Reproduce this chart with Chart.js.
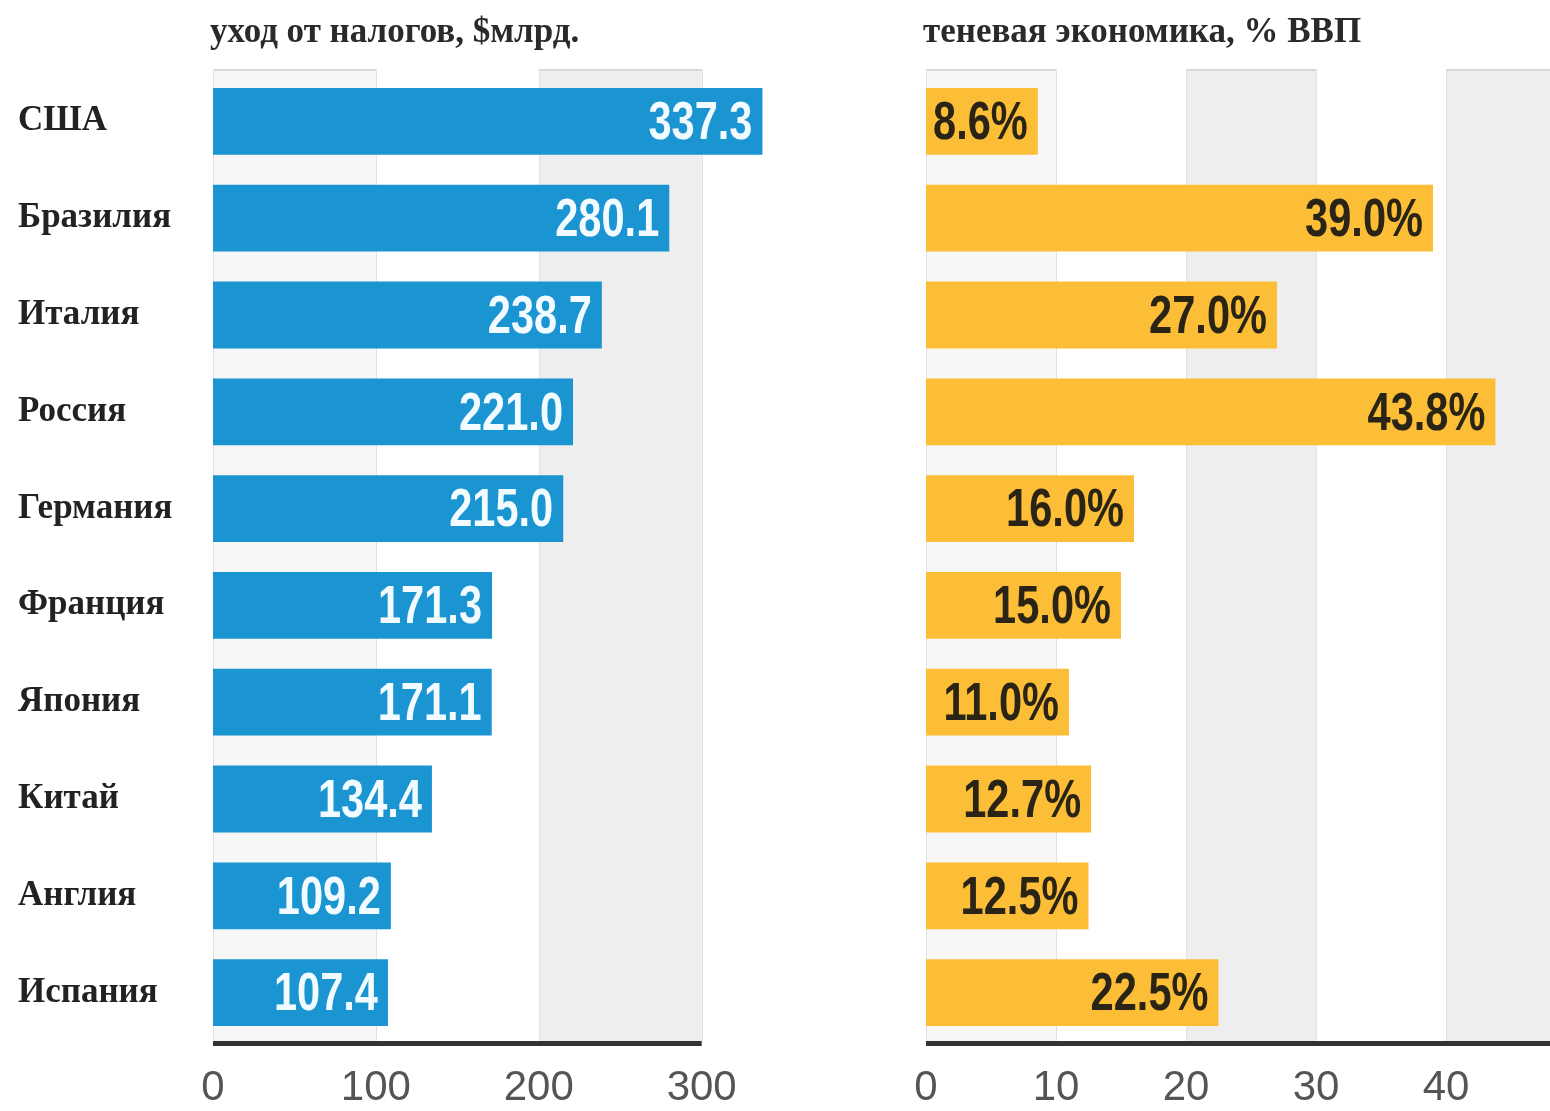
<!DOCTYPE html>
<html>
<head>
<meta charset="utf-8">
<script src="https://cdn.jsdelivr.net/npm/chart.js@4.4.1/dist/chart.umd.min.js"></script>
<style>
    html, body { margin: 0; padding: 0; background: #fff; }
    body { width: 1550px; height: 1111px; position: relative; overflow: hidden; }
    canvas { position: absolute; top: 0; }
    #taxChart { left: 0; }
    #shadowChart { left: 780px; }
</style>
</head>
<body>
<canvas id="taxChart" width="780" height="1111"></canvas>
<canvas id="shadowChart" width="770" height="1111"></canvas>
<script>
// Data
const countries = ['США', 'Бразилия', 'Италия', 'Россия', 'Германия', 'Франция', 'Япония', 'Китай', 'Англия', 'Испания'];
const taxEvasion = [337.3, 280.1, 238.7, 221.0, 215.0, 171.3, 171.1, 134.4, 109.2, 107.4];
const shadowEconomy = [8.6, 39.0, 27.0, 43.8, 16.0, 15.0, 11.0, 12.7, 12.5, 22.5];
const taxTicks = [0, 100, 200, 300];
const shadowTicks = [0, 10, 20, 30, 40];
const taxTitle = 'уход от налогов, $млрд.';
const shadowTitle = 'теневая экономика, % ВВП';

const sansFont = "'Liberation Sans', Arial, Helvetica, sans-serif";
const serifFont = "'Liberation Serif', 'Times New Roman', serif";

const bandColors = ['#f7f7f7', '#ffffff', '#eeeeee'];

// background bands, grid lines and the heavy axis line
const bandsPlugin = {
    id: 'bands',
    beforeDatasetsDraw(chart, args, opts) {
        const { ctx, chartArea } = chart;
        const x = chart.scales.x;
        const ticks = opts.ticks;
        const top = chartArea.top - 4;
        ctx.save();
        for (let i = 0; i < ticks.length; i++) {
            const x0 = x.getPixelForValue(ticks[i]);
            const x1 = i + 1 < ticks.length ? x.getPixelForValue(ticks[i + 1]) : opts.lastEdge;
            if (x1 <= x0) continue;
            const color = i === 0 ? bandColors[0] : (i % 2 === 0 ? bandColors[2] : bandColors[1]);
            ctx.fillStyle = color;
            ctx.fillRect(x0, top, x1 - x0, chartArea.bottom - top);
            if (color !== '#ffffff') {
                ctx.fillStyle = '#d8d8d8';
                ctx.fillRect(x0, top, x1 - x0, 2);
            }
            ctx.fillStyle = '#e2e2e2';
            ctx.fillRect(Math.round(x0), top, 1, chartArea.bottom - top);
            if (x1 < chartArea.right) ctx.fillRect(Math.round(x1), top, 1, chartArea.bottom - top);
        }
        ctx.restore();
    },
    afterDatasetsDraw(chart, args, opts) {
        const { ctx, chartArea } = chart;
        const x = chart.scales.x;
        ctx.save();
        ctx.fillStyle = '#333';
        const x0 = x.getPixelForValue(0);
        ctx.fillRect(x0, chartArea.bottom, opts.lastEdge - x0, 5);
        ctx.restore();
    }
};

// value labels inside the bar ends (condensed like the original)
const valueLabels = {
    id: 'valueLabels',
    afterDatasetsDraw(chart, args, opts) {
        const { ctx } = chart;
        const meta = chart.getDatasetMeta(0);
        const data = chart.data.datasets[0].data;
        const squeeze = 0.77;
        ctx.save();
        ctx.font = 'bold 54px ' + sansFont;
        ctx.fillStyle = opts.color;
        ctx.textAlign = 'right';
        ctx.textBaseline = 'middle';
        meta.data.forEach((bar, i) => {
            ctx.save();
            ctx.translate(bar.x - 10, bar.y + 3);
            ctx.scale(squeeze, 1);
            ctx.fillText(opts.format(data[i]), 0, 0);
            ctx.restore();
        });
        ctx.restore();
    }
};

// panel title at the left of the plot area
const panelTitle = {
    id: 'panelTitle',
    afterDraw(chart, args, opts) {
        const { ctx, chartArea } = chart;
        ctx.save();
        ctx.font = 'bold 35px ' + serifFont;
        ctx.fillStyle = '#2a2a2a';
        ctx.textAlign = 'left';
        ctx.textBaseline = 'middle';
        ctx.fillText(opts.text, chartArea.left - 3, 33);
        ctx.restore();
    }
};

function makeChart(id, values, ticks, max, color, labelColor, fmt, title, showCategories) {
    const padLeft = showCategories ? 18 : 146;
    return new Chart(document.getElementById(id), {
        type: 'bar',
        data: {
            labels: countries,
            datasets: [{
                data: values,
                backgroundColor: color,
                borderWidth: 0,
                categoryPercentage: 1,
                barPercentage: 0.69
            }]
        },
        options: {
            indexAxis: 'y',
            responsive: false,
            animation: false,
            devicePixelRatio: 1,
            layout: { padding: { left: padLeft, right: showCategories ? 5 : 0, top: 73, bottom: 0 } },
            plugins: {
                legend: { display: false },
                tooltip: { enabled: false },
                bands: { ticks: ticks, lastEdge: null },
                valueLabels: { color: labelColor, format: fmt },
                panelTitle: { text: title }
            },
            scales: {
                x: {
                    min: 0,
                    max: max,
                    afterBuildTicks: (scale) => { scale.ticks = ticks.map(v => ({ value: v })); },
                    afterFit: (scale) => { scale.height = 70; },
                    grid: { display: false, drawTicks: false },
                    border: { display: false },
                    ticks: {
                        color: '#555',
                        padding: 22,
                        font: { family: sansFont, size: 42 },
                        maxRotation: 0
                    }
                },
                y: {
                    display: showCategories,
                    afterFit: (scale) => { if (showCategories) scale.width = 213 - 18; },
                    grid: { display: false },
                    border: { display: false },
                    ticks: {
                        crossAlign: 'far',
                        color: '#222',
                        font: { family: serifFont, size: 35, weight: 'bold' }
                    }
                }
            }
        },
        plugins: [bandsPlugin, valueLabels, panelTitle]
    });
}

const taxChart = makeChart('taxChart', taxEvasion, taxTicks, 345, '#1b94d2', '#f2fbff',
    v => v.toFixed(1), taxTitle, true);
const shadowChart = makeChart('shadowChart', shadowEconomy, shadowTicks, 48, '#fbbe36', '#2a2416',
    v => v.toFixed(1) + '%', shadowTitle, false);

// band edges: left panel stops at 300, right panel runs to the edge
taxChart.options.plugins.bands.lastEdge = taxChart.scales.x.getPixelForValue(300);
shadowChart.options.plugins.bands.lastEdge = shadowChart.chartArea.right;
taxChart.update('none');
shadowChart.update('none');
</script>
</body>
</html>
